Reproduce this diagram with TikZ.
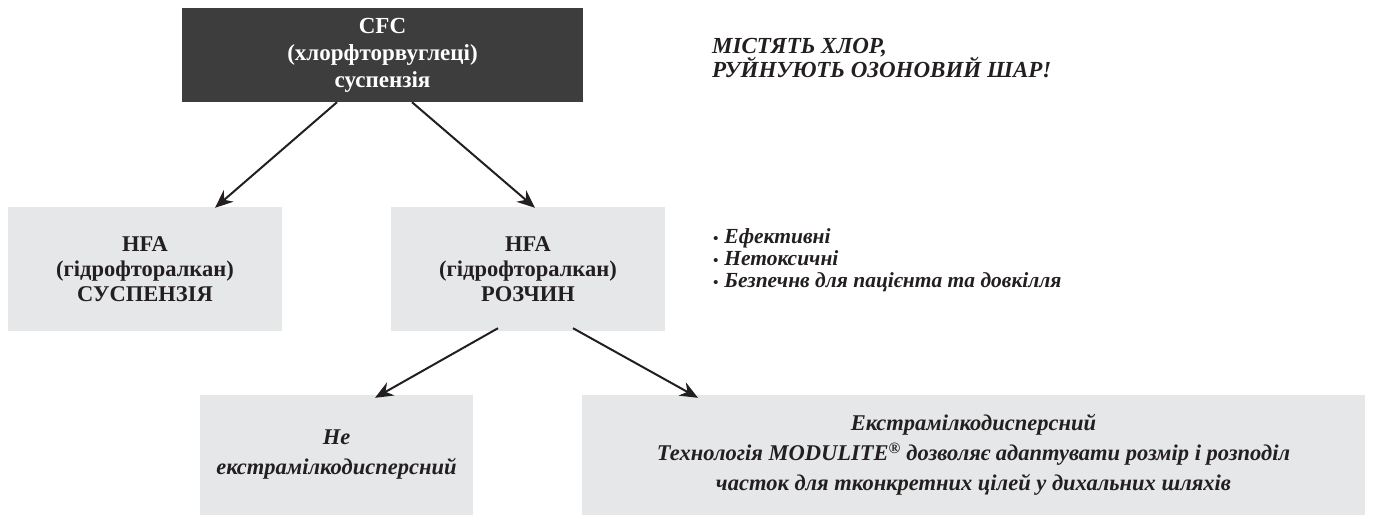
\documentclass[tikz,border=0pt]{standalone}
\usepackage{fontspec}
\setmainfont{Liberation Serif}
\usetikzlibrary{arrows.meta}
\definecolor{darkbox}{HTML}{3D3D3D}
\definecolor{lightbox}{HTML}{E6E7E8}
\definecolor{ink}{HTML}{231F20}
\tikzset{
  topbox/.style={fill=darkbox, text=white, minimum width=401pt, minimum height=94pt, inner sep=0pt, align=center,
    font=\bfseries\fontsize{23}{27}\selectfont},
  midbox/.style={fill=lightbox, text=ink, minimum width=274pt, minimum height=124pt, inner sep=0pt, align=center,
    font=\bfseries\fontsize{22.5}{25}\selectfont},
  lowbox/.style={fill=lightbox, text=ink, minimum height=120pt, inner sep=0pt, align=center,
    font=\bfseries\itshape\fontsize{22.5}{30}\selectfont},
  note/.style={text=ink, inner sep=0pt, align=left, anchor=west, font=\bfseries\itshape\fontsize{23}{23}\selectfont},
  arr/.style={draw=ink, line width=2pt, -{Stealth[length=18pt,width=15pt]}}
}
\newcommand{\blt}{{\fontsize{15}{15}\selectfont•}\hspace{6pt}}
\begin{document}
\begin{tikzpicture}[x=1pt,y=-1pt]
\useasboundingbox (0,0) rectangle (1375,517);
\node[topbox, text depth=4pt] (cfc) at (382.5,55) {CFC\\(хлорфторвуглеці)\\суспензія};
\node[midbox] (hfas) at (145,269) {HFA\\(гідрофторалкан)\\СУСПЕНЗІЯ};
\node[midbox] (hfar) at (528,269) {HFA\\(гідрофторалкан)\\РОЗЧИН};
\node[lowbox, minimum width=273pt] (ne) at (336.5,455) {Не\\екстрамілкодисперсний};
\node[lowbox, minimum width=783pt] (ex) at (973.5,455) {Екстрамілкодисперсний\\Технологія MODULITE\textsuperscript{®} дозволяє адаптувати розмір і розподіл\\часток для тконкретних цілей у дихальних шляхів};
\node[note] (warn) at (712,58) {МІСТЯТЬ ХЛОР,\\РУЙНУЮТЬ ОЗОНОВИЙ ШАР!};
\node[note, font=\bfseries\itshape\fontsize{21.5}{22}\selectfont] (props) at (713,260) {\blt Ефективні\\\blt Нетоксичні\\\blt Безпечнв для пацієнта та довкілля};
\draw[arr] ([xshift=-45.5pt]cfc.south) -- ([xshift=70pt,yshift=-1pt]hfas.north);
\draw[arr] ([xshift=29.5pt]cfc.south) -- ([xshift=7pt,yshift=-1pt]hfar.north);
\draw[arr] ([xshift=-30pt,yshift=3pt]hfar.south) -- ([xshift=38.5pt,yshift=-3pt]ne.north);
\draw[arr] ([xshift=45pt,yshift=3pt]hfar.south) -- ([xshift=-275.5pt,yshift=-3pt]ex.north);
\end{tikzpicture}
\end{document}
